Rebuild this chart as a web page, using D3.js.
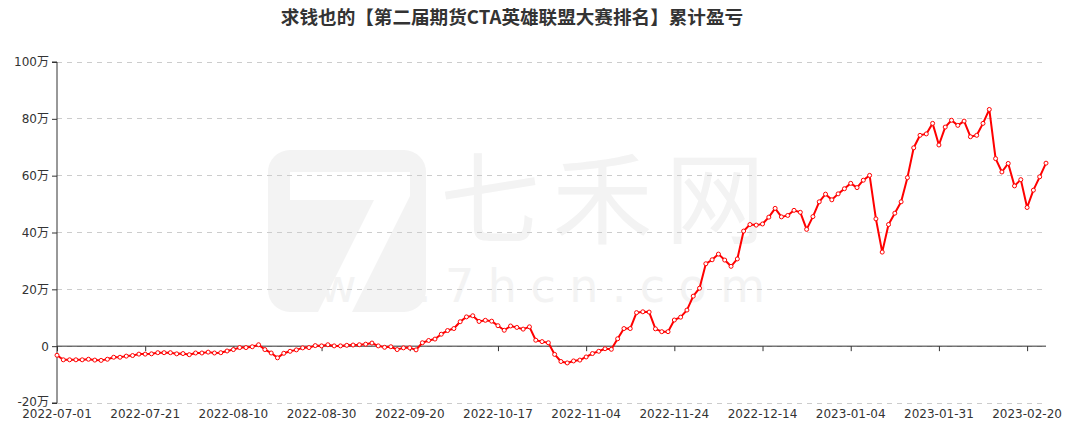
<!DOCTYPE html>
<html>
<head>
<meta charset="utf-8">
<script src="https://cdn.jsdelivr.net/npm/d3@7/dist/d3.min.js"></script>
<style>
  html, body { margin: 0; padding: 0; background: #fff; }
  svg { display: block; }
</style>
</head>
<body>
<svg id="chart" width="1073" height="430"></svg>
<script>
const title = "求钱也的【第二届期货CTA英雄联盟大赛排名】累计盈亏";

const dates = [
  "2022-07-01","2022-07-04","2022-07-05","2022-07-06","2022-07-07","2022-07-08","2022-07-11","2022-07-12","2022-07-13","2022-07-14","2022-07-15","2022-07-18","2022-07-19","2022-07-20","2022-07-21","2022-07-22","2022-07-25","2022-07-26","2022-07-27","2022-07-28","2022-07-29",
  "2022-08-01","2022-08-02","2022-08-03","2022-08-04","2022-08-05","2022-08-08","2022-08-09","2022-08-10","2022-08-11","2022-08-12","2022-08-15","2022-08-16","2022-08-17","2022-08-18","2022-08-19","2022-08-22","2022-08-23","2022-08-24","2022-08-25","2022-08-26","2022-08-29","2022-08-30","2022-08-31",
  "2022-09-01","2022-09-02","2022-09-05","2022-09-06","2022-09-07","2022-09-08","2022-09-09","2022-09-13","2022-09-14","2022-09-15","2022-09-16","2022-09-19","2022-09-20","2022-09-21","2022-09-22","2022-09-23","2022-09-26","2022-09-27","2022-09-28","2022-09-29","2022-09-30",
  "2022-10-10","2022-10-11","2022-10-12","2022-10-13","2022-10-14","2022-10-17","2022-10-18","2022-10-19","2022-10-20","2022-10-21","2022-10-24","2022-10-25","2022-10-26","2022-10-27","2022-10-28","2022-10-31",
  "2022-11-01","2022-11-02","2022-11-03","2022-11-04","2022-11-07","2022-11-08","2022-11-09","2022-11-10","2022-11-11","2022-11-14","2022-11-15","2022-11-16","2022-11-17","2022-11-18","2022-11-21","2022-11-22","2022-11-23","2022-11-24","2022-11-25","2022-11-28","2022-11-29","2022-11-30",
  "2022-12-01","2022-12-02","2022-12-05","2022-12-06","2022-12-07","2022-12-08","2022-12-09","2022-12-12","2022-12-13","2022-12-14","2022-12-15","2022-12-16","2022-12-19","2022-12-20","2022-12-21","2022-12-22","2022-12-23","2022-12-26","2022-12-27","2022-12-28","2022-12-29","2022-12-30",
  "2023-01-03","2023-01-04","2023-01-05","2023-01-06","2023-01-09","2023-01-10","2023-01-11","2023-01-12","2023-01-13","2023-01-16","2023-01-17","2023-01-18","2023-01-19","2023-01-20","2023-01-30","2023-01-31",
  "2023-02-01","2023-02-02","2023-02-03","2023-02-06","2023-02-07","2023-02-08","2023-02-09","2023-02-10","2023-02-13","2023-02-14","2023-02-15","2023-02-16","2023-02-17","2023-02-20","2023-02-21","2023-02-22","2023-02-23"
];

// cumulative P&L, in 万 (10,000 yuan)
const pnl = [
  -3.2,-4.8,-4.8,-4.8,-4.8,-4.6,-4.9,-5.0,-4.6,-3.9,-3.9,-3.5,-3.3,-2.8,-2.8,-2.7,-2.3,-2.3,-2.3,-2.7,
  -2.6,-3.0,-2.4,-2.4,-2.1,-2.4,-2.3,-1.7,-1.2,-0.5,-0.5,-0.2,0.5,-1.2,-2.4,-4.1,-2.5,-1.8,-1.3,-0.6,
  -0.5,0.2,0.1,0.5,0.1,0.1,0.3,0.4,0.5,0.7,1.1,0.1,-0.4,-0.2,-1.2,-0.6,-0.6,-1.3,1.2,2.0,
  2.5,4.2,5.5,6.2,8.6,10.3,10.7,8.7,9.1,8.8,7.2,5.6,7.1,6.6,6.0,6.8,2.1,1.6,1.2,-2.9,
  -5.4,-5.9,-5.2,-4.9,-3.8,-2.6,-1.8,-0.9,-1.1,2.6,6.2,6.2,11.8,12.1,12.0,6.1,5.1,5.1,9.2,10.2,
  12.7,17.6,20.4,29.0,30.4,32.4,30.3,28.1,30.7,40.5,42.8,42.6,43.0,45.4,48.5,45.5,46.0,47.8,47.1,41.1,
  45.6,50.8,53.5,51.5,53.6,55.4,57.3,55.8,58.4,60.1,44.8,33.1,42.8,46.8,50.8,59.3,69.8,74.2,74.7,78.4,
  70.8,77.1,79.5,77.7,79.2,73.7,74.2,78.4,83.3,66.0,61.3,64.3,56.4,58.6,48.8,54.9,59.6,64.4
];

const yTicks = [-20, 0, 20, 40, 60, 80, 100];
const xLabelEvery = 14;

const W = 1073, H = 430;
const margin = { top: 62, right: 27, bottom: 27, left: 57 };

const svg = d3.select("#chart");

// watermark
const wm = svg.append("g").attr("class", "watermark");
wm.append("rect").attr("x", 268).attr("y", 150).attr("width", 158).attr("height", 162)
  .attr("rx", 22).attr("fill", "#f3f3f3");
wm.append("path")
  .attr("d", "M290,172 L410,172 L410,196 L352,312 L318,312 L374,200 L290,200 Z")
  .attr("fill", "#fff");
wm.append("text").attr("x", 440).attr("y", 236).attr("font-size", 100)
  .attr("font-family", "Noto Sans CJK SC").attr("fill", "#f3f3f3")
  .attr("textLength", 325).text("七禾网");
wm.append("text").attr("x", 268).attr("y", 302).attr("font-size", 46)
  .attr("font-family", "DejaVu Sans").attr("fill", "#f3f3f3")
  .attr("textLength", 497).text("www.7hcn.com");

const x = d3.scalePoint().domain(dates).range([margin.left, W - margin.right]);
const y = d3.scaleLinear().domain([-20, 100]).range([H - margin.bottom, margin.top]);

// grid lines
svg.append("g").selectAll("line").data(yTicks).join("line")
  .attr("x1", margin.left).attr("x2", W - margin.right)
  .attr("y1", d => y(d)).attr("y2", d => y(d))
  .attr("stroke", "#ccc").attr("stroke-dasharray", "5,5").attr("stroke-width", 1)
  .attr("shape-rendering", "crispEdges");

// y axis
const yAxis = d3.axisLeft(y).tickValues(yTicks).tickSize(5).tickPadding(3)
  .tickFormat(d => d === 0 ? "0" : d + "万");
const gy = svg.append("g").attr("transform", `translate(${margin.left},0)`).call(yAxis);
gy.select(".domain").attr("stroke", "#333").attr("d", `M-5,${y(100)}H0V${y(-20)}H-5`);
gy.selectAll(".tick line").attr("stroke", "#333");
gy.selectAll(".tick text").attr("fill", "#333").attr("font-size", 12)
  .attr("font-family", "DejaVu Sans, Noto Sans CJK SC");
gy.selectAll(".tick text").filter(d => d === -20).attr("dy", "0.2em");

// x axis at zero
const tickDates = dates.filter((d, i) => i % xLabelEvery === 0);
const xAxis = d3.axisBottom(x).tickValues(tickDates).tickSize(5).tickFormat("");
const gx = svg.append("g").attr("transform", `translate(0,${y(0)})`).call(xAxis);
gx.select(".domain").attr("stroke", "#333").attr("d", `M${margin.left},0H${W - margin.right}`);
gx.selectAll(".tick line").attr("stroke", "#333");

// x labels at bottom
svg.append("g").selectAll("text").data(tickDates).join("text")
  .attr("x", d => x(d)).attr("y", H - margin.bottom + 15)
  .attr("text-anchor", "middle").attr("font-size", 12)
  .attr("font-family", "DejaVu Sans").attr("fill", "#333")
  .text(d => d);

// line
const line = d3.line().x((d, i) => x(dates[i])).y(d => y(d));
svg.append("path").datum(pnl).attr("d", line)
  .attr("fill", "none").attr("stroke", "#ff0000").attr("stroke-width", 2)
  .attr("stroke-linejoin", "round");

svg.append("g").selectAll("circle").data(pnl).join("circle")
  .attr("cx", (d, i) => x(dates[i])).attr("cy", d => y(d)).attr("r", 2)
  .attr("fill", "#fff").attr("stroke", "#ff0000").attr("stroke-width", 1);

// title
svg.append("text").attr("x", 512).attr("y", 24).attr("text-anchor", "middle")
  .attr("font-size", 18.6).attr("font-weight", "bold")
  .attr("font-family", "Noto Sans CJK SC").attr("fill", "#333")
  .text(title);
</script>
</body>
</html>
